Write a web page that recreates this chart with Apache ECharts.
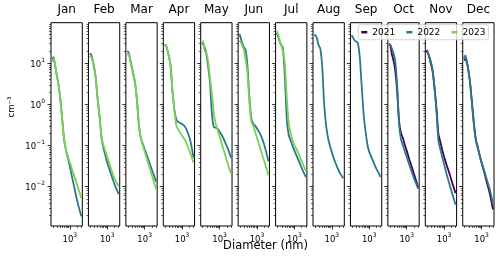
<!DOCTYPE html>
<html><head><meta charset="utf-8">
<script src="https://cdn.jsdelivr.net/npm/echarts@6/dist/echarts.min.js"></script>
<style>html,body{margin:0;padding:0;background:#fff}#c{width:500px;height:257px}</style>
</head><body><div id="c"></div>
<script>
const months = ['Jan','Feb','Mar','Apr','May','Jun','Jul','Aug','Sep','Oct','Nov','Dec'];
const years = ['2021','2022','2023'];
const diameters = [185, 210, 240, 280, 330, 400, 480, 580, 700, 850, 1000, 1300, 1700, 2200, 3000];

const jan2022 = [12.5, 14, 9.5, 5.5, 3.3, 1.4, 0.45, 0.14, 0.075, 0.048, 0.031, 0.015, 0.0072, 0.0037, 0.0019];
const jan2023 = [11, 13, 9.5, 5.5, 3.3, 1.4, 0.45, 0.14, 0.075, 0.052, 0.039, 0.024, 0.015, 0.0093, 0.0052];
const feb2022 = [16.5, 17, 13, 8.5, 4.5, 1.3, 0.5, 0.15, 0.085, 0.055, 0.038, 0.024, 0.015, 0.0098, 0.0066];
const feb2023 = [14, 15, 12, 8, 4.5, 1.3, 0.5, 0.16, 0.10, 0.07, 0.052, 0.033, 0.02, 0.014, 0.01];
const mar2022 = [19.5, 19, 14, 9, 5.8, 3.3, 1.2, 0.3, 0.147, 0.106, 0.081, 0.053, 0.033, 0.022, 0.013];
const mar2023 = [16, 17, 13, 8.5, 5.5, 3.2, 1.2, 0.3, 0.142, 0.098, 0.071, 0.043, 0.026, 0.0155, 0.0085];
const apr2022 = [27, 28, 22, 15, 9, 2.0, 0.72, 0.42, 0.37, 0.35, 0.33, 0.29, 0.21, 0.13, 0.05];
const apr2023 = [26, 28, 22, 15, 9, 2.0, 0.7, 0.3, 0.24, 0.2, 0.17, 0.14, 0.096, 0.065, 0.038];
const may2022 = [31, 29, 24, 18, 9, 3.5, 0.6, 0.28, 0.27, 0.25, 0.22, 0.17, 0.12, 0.085, 0.05];
const may2023 = [33, 34, 20, 18, 12, 4.5, 1.8, 0.6, 0.33, 0.23, 0.17, 0.1, 0.06, 0.036, 0.021];
const jun2022 = [52, 42, 32, 25, 22, 9, 1.6, 0.45, 0.34, 0.3, 0.26, 0.2, 0.14, 0.085, 0.041];
const jun2023 = [36, 33, 28, 22, 14, 6, 1.2, 0.38, 0.3, 0.21, 0.155, 0.095, 0.056, 0.035, 0.019];
const jul2022 = [55, 45, 35, 28, 24, 5, 0.45, 0.18, 0.13, 0.095, 0.075, 0.052, 0.036, 0.025, 0.017];
const jul2023 = [62, 50, 38, 28, 20, 10, 1.5, 0.35, 0.2, 0.13, 0.1, 0.075, 0.052, 0.036, 0.024];
const aug2022 = [48, 48, 40, 28, 23, 8, 1.0, 0.3, 0.15, 0.095, 0.068, 0.043, 0.029, 0.021, 0.016];
const sep2022 = [48, 42, 37, 34, 32, 15, 3, 0.6, 0.22, 0.1, 0.07, 0.048, 0.033, 0.024, 0.017];
const oct2021 = [30, 27, 17, 12, 7, 2.2, 0.4, 0.2, 0.15, 0.1, 0.075, 0.045, 0.028, 0.017, 0.0095];
const oct2022 = [28, 28, 23, 18, 12, 3, 0.35, 0.14, 0.1, 0.07, 0.053, 0.033, 0.021, 0.014, 0.0088];
const nov2021 = [21, 18, 14, 10, 6.5, 2.5, 0.8, 0.19, 0.12, 0.075, 0.053, 0.032, 0.02, 0.012, 0.0069];
const nov2022 = [19, 18, 15, 11, 7, 2.5, 0.7, 0.13, 0.08, 0.05, 0.035, 0.019, 0.011, 0.0065, 0.0036];
const dec2021 = [12, 12.5, 11, 7, 3.6, 1.1, 0.35, 0.14, 0.09, 0.055, 0.038, 0.022, 0.012, 0.0068, 0.0028];
const dec2022 = [13, 15.5, 12, 7, 3.5, 1.0, 0.32, 0.13, 0.085, 0.055, 0.04, 0.024, 0.014, 0.0085, 0.0038];

// month -> [2021, 2022, 2023]
const monthSeries = [
  [null, jan2022, jan2023], [null, feb2022, feb2023], [null, mar2022, mar2023],
  [null, apr2022, apr2023], [null, may2022, may2023], [null, jun2022, jun2023],
  [null, jul2022, jul2023], [null, aug2022, null], [null, sep2022, null],
  [oct2021, oct2022, null], [nov2021, nov2022, null], [dec2021, dec2022, null]
];

const xTickValues = [1000];
const yTickValues = [0.01, 0.1, 1, 10];
const xLabel = 'Diameter (nm)';
const yLabel = 'cm\u207B\u00B3';

const colors = ['#440154', '#2a788e', '#7ad151'];
const xMin = 165, xMax = 3300, yMin = 0.0011, yMax = 97;
const left0 = 51, step = 37.43, pw = 31.3, top0 = 22.7, ph = 203.3;

function pow10Label(v) {
  const e = Math.round(Math.log10(v));
  return '{b|10}{s|' + (e < 0 ? '\u2212' + (-e) : e) + '}';
}
const labelRich = {
  b: {fontSize: 8.5, color: '#000', fontFamily: 'DejaVu Sans', lineHeight: 12, verticalAlign: 'bottom'},
  s: {fontSize: 6, color: '#000', fontFamily: 'DejaVu Sans', lineHeight: 12, verticalAlign: 'top'}
};
const xMinor = [];
for (let dec = 100; dec <= 1000; dec *= 10) for (let k = 2; k <= 9; k++) { const v = k * dec; if (v > xMin && v < xMax) xMinor.push(v); }
const yMinor = [];
for (let e = -3; e <= 1; e++) for (let k = 2; k <= 9; k++) { const v = k * Math.pow(10, e); if (v > yMin && v < yMax) yMinor.push(v); }

const font = 'DejaVu Sans';
const grid = [], xAxis = [], yAxis = [], series = [], title = [];
months.forEach((m, i) => {
  const L = left0 + i * step;
  grid.push({left: L, top: top0, width: pw, height: ph, show: true, borderColor: '#000', borderWidth: 1,
    backgroundColor: 'transparent', containLabel: false, outerBoundsMode: 'none'});
  title.push({text: m, left: L + pw / 2, top: 4, textAlign: 'center', padding: 0,
    textStyle: {fontSize: 12, fontWeight: 'normal', color: '#000', fontFamily: font}});
  xAxis.push({type: 'log', gridIndex: i, position: 'bottom', min: xMin, max: xMax,
    axisLine: {show: false}, splitLine: {show: false},
    axisTick: {show: true, inside: false, length: 3.5, customValues: xTickValues, lineStyle: {color: '#000', width: 0.8}},
    axisLabel: {show: true, customValues: xTickValues, formatter: pow10Label, rich: labelRich, margin: 6}});
  xAxis.push({type: 'log', gridIndex: i, position: 'bottom', min: xMin, max: xMax,
    axisLine: {show: false}, splitLine: {show: false}, axisLabel: {show: false},
    axisTick: {show: true, inside: false, length: 2, customValues: xMinor, lineStyle: {color: '#000', width: 0.6}}});
  yAxis.push({type: 'log', gridIndex: i, position: 'left', min: yMin, max: yMax,
    axisLine: {show: false}, splitLine: {show: false},
    axisTick: {show: true, inside: false, length: 3.5, customValues: yTickValues, lineStyle: {color: '#000', width: 0.8}},
    axisLabel: {show: i === 0, customValues: yTickValues, formatter: pow10Label, rich: labelRich, margin: 6}});
  yAxis.push({type: 'log', gridIndex: i, position: 'left', min: yMin, max: yMax,
    axisLine: {show: false}, splitLine: {show: false}, axisLabel: {show: false},
    axisTick: {show: true, inside: false, length: 2, customValues: yMinor, lineStyle: {color: '#000', width: 0.6}}});
  monthSeries[i].forEach((arr, yi) => {
    if (!arr) return;
    series.push({type: 'line', name: years[yi], xAxisIndex: 2 * i, yAxisIndex: 2 * i,
      data: diameters.map((d, k) => [d, arr[k]]), showSymbol: false, symbol: 'none', z: 2 + yi,
      smooth: 0.2, lineStyle: {width: 1.8, color: colors[yi]}, itemStyle: {color: colors[yi]}, silent: true});
  });
});
title.push({text: xLabel, left: 265.5, top: 240, textAlign: 'center', padding: 0,
  textStyle: {fontSize: 11.5, fontWeight: 'normal', color: '#000', fontFamily: font}});

const chart = echarts.init(document.getElementById('c'), null, {renderer: 'canvas'});
chart.setOption({
  animation: false,
  textStyle: {fontFamily: font},
  title, grid, xAxis, yAxis, series,
  legend: {data: years, left: 358.3, top: 24.7, orient: 'horizontal', icon: 'rect',
    itemWidth: 6, itemHeight: 2.5, itemGap: 11.2, padding: [3, 3, 3, 3],
    backgroundColor: 'rgba(255,255,255,0.8)', borderColor: '#cccccc', borderWidth: 0.8, borderRadius: 2,
    textStyle: {fontSize: 9, color: '#000', fontFamily: font}},
  graphic: [{type: 'text', x: 12, y: 107, rotation: Math.PI / 2,
    style: {text: yLabel, fontSize: 8.5, fill: '#000', textAlign: 'center', textVerticalAlign: 'middle', fontFamily: font}}]
});
</script></body></html>
